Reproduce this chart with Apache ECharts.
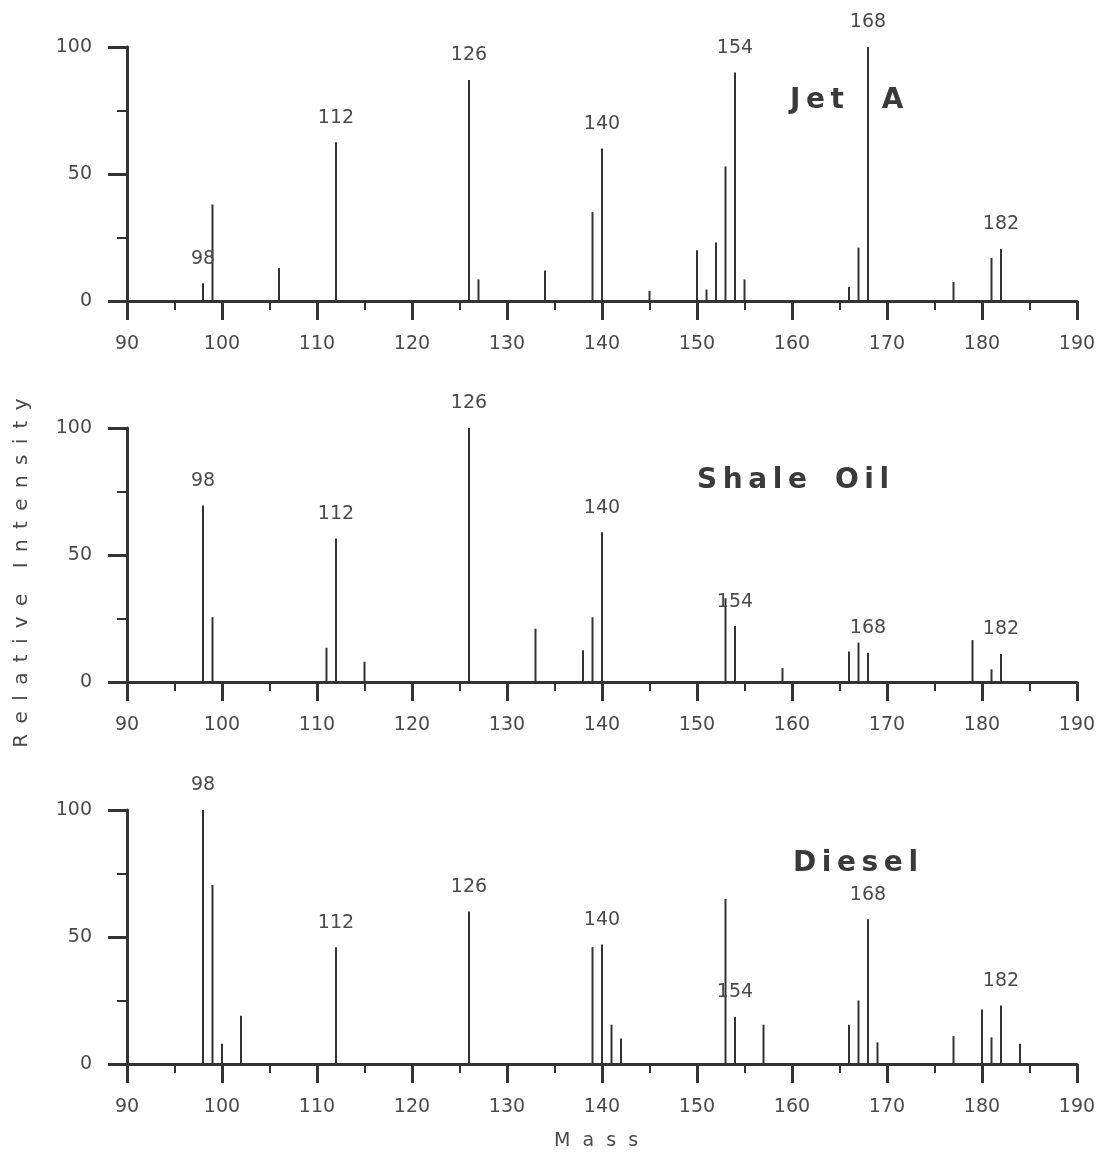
<!DOCTYPE html>
<html>
<head>
<meta charset="utf-8">
<script src="https://cdn.jsdelivr.net/npm/echarts@6/dist/echarts.min.js"></script>
<style>
html,body{margin:0;padding:0;background:#fff;}
#chart{width:1103px;height:1159px;}
</style>
</head>
<body>
<div id="chart"></div>
<script>
// ---- data ----
const jetMass = [98, 99, 106, 112, 126, 127, 134, 139, 140, 145, 150, 151, 152, 153, 154, 155, 166, 167, 168, 177, 181, 182];
const jetInt  = [7, 38, 13, 62.5, 87, 8.5, 12, 35, 60, 4, 20, 4.5, 23, 53, 90, 8.5, 5.5, 21, 100, 7.5, 17, 20.5];

const shaleMass = [98, 99, 111, 112, 115, 126, 133, 138, 139, 140, 153, 154, 159, 166, 167, 168, 179, 181, 182];
const shaleInt  = [69.5, 25.5, 13.5, 56.5, 8, 100, 21, 12.5, 25.5, 59, 33, 22, 5.5, 12, 15.5, 11.5, 16.5, 5, 11];

const dieselMass = [98, 99, 100, 102, 112, 126, 139, 140, 141, 142, 153, 154, 157, 166, 167, 168, 169, 177, 180, 181, 182, 184];
const dieselInt  = [100, 70.5, 8, 19, 46, 60, 46, 47, 15.5, 10, 65, 18.5, 15.5, 15.5, 25, 57, 8.5, 11, 21.5, 10.5, 23, 8];

const peakLabels = [98, 112, 126, 140, 154, 168, 182];
const panelNames = ['J\u2009e\u2009t\u2003 A', 'S\u2009h\u2009a\u2009l\u2009e\u2003O\u2009i\u2009l', 'D\u2009i\u2009e\u2009s\u2009e\u2009l'];
const xTicks = {min: 90, max: 190, interval: 10};
const yTicks = {min: 0, max: 100, interval: 50};
const xName = 'M  a  s  s';
const yName = 'R \u2009e \u2009l \u2009a \u2009t \u2009i \u2009v \u2009e    I \u2009n \u2009t \u2009e \u2009n \u2009s \u2009i \u2009t \u2009y';

// ---- layout ----
const FONT = 'DejaVu Sans';
const INK = '#333';
const TXT = '#4a4a4a';
const gridTops = [47, 428, 810];
const gridH = 254;

const grids = gridTops.map(t => ({left: 127, right: 26, top: t, height: gridH}));

const xAxes = gridTops.map((t, i) => ({
  type: 'value', gridIndex: i, min: xTicks.min, max: xTicks.max, interval: xTicks.interval,
  axisLine: {show: true, lineStyle: {color: INK, width: 3}},
  axisTick: {show: true, length: 19, lineStyle: {color: INK, width: 3}},
  minorTick: {show: true, splitNumber: 2, length: 9, lineStyle: {color: INK, width: 2}},
  splitLine: {show: false},
  axisLabel: {show: true, margin: 34, fontFamily: FONT, fontSize: 19, color: TXT}
}));

const yAxes = gridTops.map((t, i) => ({
  type: 'value', gridIndex: i, min: yTicks.min, max: yTicks.max, interval: yTicks.interval,
  axisLine: {show: true, lineStyle: {color: INK, width: 3}},
  axisTick: {show: true, length: 19, lineStyle: {color: INK, width: 3}},
  minorTick: {show: true, splitNumber: 2, length: 10, lineStyle: {color: INK, width: 2}},
  splitLine: {show: false},
  axisLabel: {show: true, margin: 35, fontFamily: FONT, fontSize: 19, color: TXT}
}));

function makeSeries(masses, ints, idx) {
  return {
    type: 'bar', xAxisIndex: idx, yAxisIndex: idx, barWidth: 2,
    itemStyle: {color: INK},
    label: {show: false, position: 'top', distance: 15, fontFamily: FONT, fontSize: 19, color: TXT,
      formatter: p => String(p.value[0])},
    data: masses.map((m, k) => {
      const item = {value: [m, ints[k]]};
      if (peakLabels.includes(m)) item.label = {show: true};
      return item;
    })
  };
}

const titlePos = [[790, 101], [697, 481], [793, 864]];

const option = {
  backgroundColor: '#fff',
  animation: false,
  grid: grids,
  xAxis: xAxes,
  yAxis: yAxes,
  series: [
    makeSeries(jetMass, jetInt, 0),
    makeSeries(shaleMass, shaleInt, 1),
    makeSeries(dieselMass, dieselInt, 2)
  ],
  graphic: [
    ...panelNames.map((n, i) => ({
      type: 'text', x: titlePos[i][0], y: titlePos[i][1], z: 100,
      style: {text: n, fontFamily: FONT, fontWeight: 'bold', fontSize: 28, fill: '#3a3a3a',
        textAlign: 'left', textVerticalAlign: 'middle'}
    })),
    {type: 'text', x: 22, y: 573, rotation: Math.PI / 2,
      style: {text: yName, fontFamily: FONT, fontSize: 20, fill: TXT, textAlign: 'center', textVerticalAlign: 'middle'}},
    {type: 'text', x: 596, y: 1141,
      style: {text: xName, fontFamily: FONT, fontSize: 19, fill: TXT, textAlign: 'center', textVerticalAlign: 'middle'}}
  ]
};

const chart = echarts.init(document.getElementById('chart'));
chart.setOption(option);
</script>
</body>
</html>
